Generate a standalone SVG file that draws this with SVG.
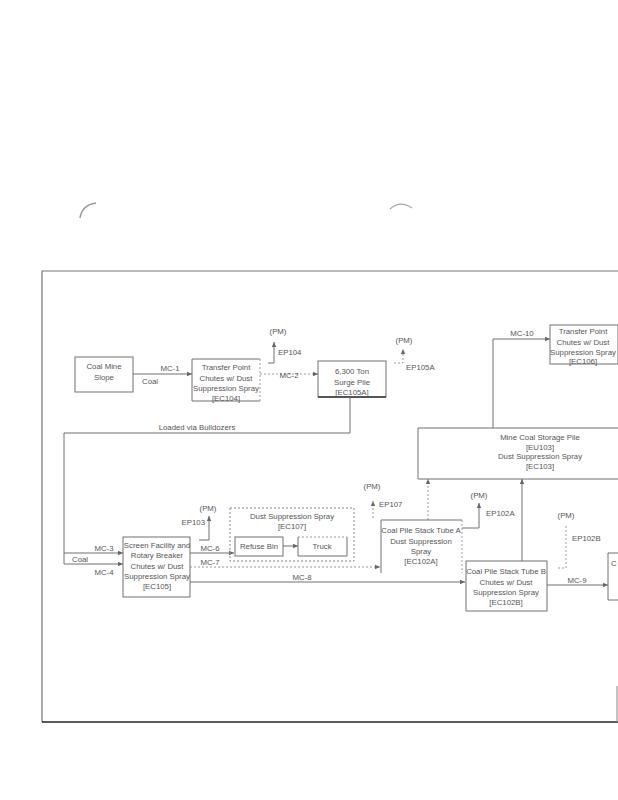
<svg xmlns="http://www.w3.org/2000/svg" width="618" height="800" viewBox="0 0 618 800">
<defs>
<style>
text{font-family:"Liberation Sans",Arial,sans-serif;font-size:7.8px;fill:#555;text-anchor:middle}
.l{text-anchor:start}
.r{text-anchor:end}
.box{fill:none;stroke:#707070;stroke-width:1}
.dot{fill:none;stroke:#888;stroke-width:1;stroke-dasharray:2 2}
.ln{fill:none;stroke:#707070;stroke-width:1}
.dl{fill:none;stroke:#999;stroke-width:1;stroke-dasharray:2 2}
</style>
<marker id="ah" markerWidth="6" markerHeight="6" refX="5" refY="3" orient="auto" markerUnits="userSpaceOnUse">
<path d="M0,0.8 L5,3 L0,5.2 Z" fill="#666"/>
</marker>
</defs>
<rect width="618" height="800" fill="#fff"/>
<g id="page">
<path d="M80,218 Q82,205 96,203" fill="none" stroke="#999" stroke-width="1.5"/>
<path d="M390,209 Q400,200 412,208" fill="none" stroke="#aaa" stroke-width="1.2"/>
<path d="M618,271 L42,271 L42,722" fill="none" stroke="#777" stroke-width="1.2"/>
<line x1="42" y1="722" x2="618" y2="722" stroke="#222" stroke-width="1.5"/>
<line x1="617" y1="686" x2="617" y2="722" stroke="#888" stroke-width="1"/>
</g>
<g id="connectors">
<line class="ln" x1="133" y1="374" x2="192" y2="374" marker-end="url(#ah)"/>
<text x="170" y="371">MC-1</text>
<text x="142" y="384" class="l">Coal</text>
<line class="dl" x1="260" y1="374" x2="318" y2="374" marker-end="url(#ah)"/>
<text x="289" y="378">MC-2</text>
<path class="ln" d="M268,363 L274,363 L274,342" marker-end="url(#ah)"/>
<text x="278" y="334">(PM)</text>
<text x="278" y="355" class="l">EP104</text>
<path class="dl" d="M394,363 L403,363 L403,349" marker-end="url(#ah)"/>
<text x="404" y="343">(PM)</text>
<text x="406" y="370" class="l">EP105A</text>
<path class="ln" d="M350,397 L350,433 L64,433 L64,564"/>
<text x="197" y="430">Loaded via Bulldozers</text>
<line class="ln" x1="64" y1="553" x2="123" y2="553" marker-end="url(#ah)"/>
<text x="104" y="551">MC-3</text>
<line class="ln" x1="64" y1="564" x2="123" y2="564" marker-end="url(#ah)"/>
<text x="72" y="562" class="l">Coal</text>
<text x="104" y="575">MC-4</text>
<path class="ln" d="M199,540 L209,540 L209,516" marker-end="url(#ah)"/>
<text x="208" y="511">(PM)</text>
<text x="205" y="525" class="r">EP103</text>
<line class="ln" x1="190" y1="553" x2="234" y2="553" marker-end="url(#ah)"/>
<text x="210" y="551">MC-6</text>
<path class="dl" d="M190,567 L380,567" marker-end="url(#ah)"/>
<text x="210" y="565">MC-7</text>
<line class="ln" x1="190" y1="582" x2="465" y2="582" marker-end="url(#ah)"/>
<text x="302" y="580">MC-8</text>
<line class="ln" x1="283" y1="546" x2="298" y2="546" marker-end="url(#ah)"/>
<line class="dl" x1="373" y1="518" x2="373" y2="501" marker-end="url(#ah)"/>
<text x="372" y="489">(PM)</text>
<text x="379" y="507" class="l">EP107</text>
<path class="ln" d="M462,528 L479,528 L479,503" marker-end="url(#ah)"/>
<text x="479" y="498">(PM)</text>
<text x="486" y="516" class="l">EP102A</text>
<line class="dl" x1="428" y1="520" x2="428" y2="479" marker-end="url(#ah)"/>
<line class="ln" x1="522" y1="561" x2="522" y2="479" marker-end="url(#ah)"/>
<path class="ln" d="M493,428 L493,339 L550,339" marker-end="url(#ah)"/>
<text x="522" y="336">MC-10</text>
<path class="dl" d="M558,568 L566,568 L566,525"/>
<text x="566" y="518">(PM)</text>
<text x="572" y="541" class="l">EP102B</text>
<line class="ln" x1="547" y1="585" x2="608" y2="585" marker-end="url(#ah)"/>
<text x="577" y="583">MC-9</text>
</g>
<g id="coal-mine-slope">
<rect class="box" x="75" y="357" width="58" height="35"/>
<text x="104" y="369">Coal Mine</text>
<text x="104" y="380">Slope</text>
</g>
<g id="ec104">
<path class="box" d="M260,359 L192,359 L192,401 L260,401"/>
<line class="dl" x1="260" y1="359" x2="260" y2="401"/>
<text x="226" y="370">Transfer Point</text>
<text x="226" y="381">Chutes w/ Dust</text>
<text x="226" y="391">Suppression Spray</text>
<text x="226" y="401">[EC104]</text>
</g>
<g id="surge-pile">
<rect class="box" x="318" y="361" width="68" height="36"/>
<line x1="318" y1="397" x2="386" y2="397" stroke="#555" stroke-width="2"/>
<text x="352" y="374">6,300 Ton</text>
<text x="352" y="385">Surge Pile</text>
<text x="352" y="395">[EC105A]</text>
</g>
<g id="ec106">
<rect class="box" x="550" y="325" width="68" height="39"/>
<text x="583" y="334">Transfer Point</text>
<text x="583" y="345">Chutes w/ Dust</text>
<text x="583" y="355">Suppression Spray</text>
<text x="583" y="364">[EC106]</text>
</g>
<g id="storage-pile">
<path class="box" d="M618,428 L418,428 L418,479 L618,479"/>
<text x="540" y="440">Mine Coal Storage Pile</text>
<text x="540" y="450">[EU103]</text>
<text x="540" y="459">Dust Suppression Spray</text>
<text x="540" y="469">[EC103]</text>
</g>
<g id="ec105">
<rect class="box" x="123" y="537" width="67" height="60"/>
<text x="157" y="548">Screen Facility and</text>
<text x="157" y="558">Rotary Breaker</text>
<text x="157" y="569">Chutes w/ Dust</text>
<text x="157" y="579">Suppression Spray</text>
<text x="157" y="589">[EC105]</text>
</g>
<g id="ec107">
<rect class="dot" x="230" y="508" width="124" height="53"/>
<text x="292" y="519">Dust Suppression Spray</text>
<text x="292" y="529">[EC107]</text>
</g>
<g id="refuse-bin">
<rect class="box" x="235" y="537" width="48" height="19"/>
<text x="259" y="549">Refuse Bin</text>
</g>
<g id="truck">
<path class="box" d="M298,537 L298,556 L347,556 L347,537"/>
<line class="dl" x1="298" y1="537" x2="347" y2="537"/>
<text x="322" y="549">Truck</text>
</g>
<g id="ec102a">
<path class="box" d="M462,520 L381,520 L381,573"/>
<line class="dl" x1="462" y1="520" x2="462" y2="573"/>
<text x="421" y="533">Coal Pile Stack Tube A</text>
<text x="421" y="544">Dust Suppression</text>
<text x="421" y="554">Spray</text>
<text x="421" y="564">[EC102A]</text>
</g>
<g id="ec102b">
<rect class="box" x="466" y="561" width="81" height="50"/>
<text x="506" y="574">Coal Pile Stack Tube B</text>
<text x="506" y="585">Chutes w/ Dust</text>
<text x="506" y="595">Suppression Spray</text>
<text x="506" y="605">[EC102B]</text>
</g>
<g id="partial-box">
<path class="box" d="M618,553 L608,553 L608,600 L618,600"/>
<text x="611" y="566" class="l">C</text>
</g>
</svg>
